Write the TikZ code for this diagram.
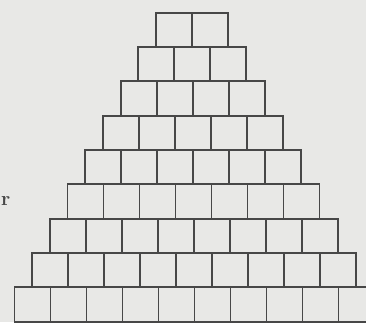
\documentclass[tikz,border=0pt]{standalone}
\usepackage{xcolor}
\definecolor{paper}{HTML}{E8E8E6}
\definecolor{brick}{HTML}{474747}
\tikzset{block/.style={draw=brick,line width=1.8pt,line join=miter}}

\begin{document}
\begin{tikzpicture}[x=1pt,y=-1pt]
  \useasboundingbox (0,0) rectangle (366,322);
  \fill[paper] (0,0) rectangle (366,322);
  \clip (0,0) rectangle (366,322);
  % row k holds k+1 squares, each row shifted half a square to the left
  \foreach \k in {1,...,9}{
    \pgfmathsetmacro{\rowtop}{12.7+(\k-1)*34.33}
    \pgfmathsetmacro{\rowleft}{156-(\k-1)*17.7}
    \foreach \i in {0,...,\k}{
      \draw[block] ({\rowleft+\i*36},\rowtop) rectangle +(36,34.33);
    }
  }
  \node[font=\fontsize{20}{20}\selectfont\bfseries,brick,inner sep=0pt,anchor=west] (rr) at (1,201) {r};
\end{tikzpicture}
\end{document}
